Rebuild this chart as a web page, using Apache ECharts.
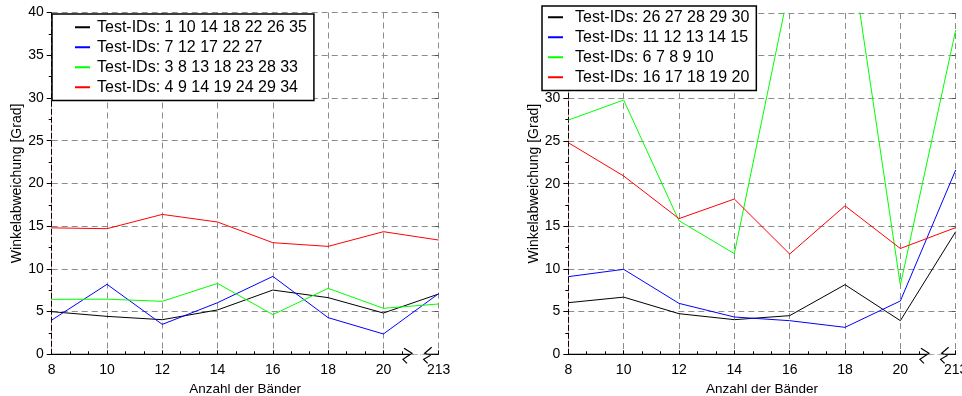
<!DOCTYPE html>
<html><head><meta charset="utf-8">
<script src="https://cdn.jsdelivr.net/npm/echarts@6/dist/echarts.min.js"></script>
<style>html,body{margin:0;padding:0;background:#fff}#c{width:962px;height:396px}</style>
</head><body><div id="c"></div>
<script>
// Band counts on the x axis (the last one sits behind an axis break)
const bandCounts = ['8', '10', '12', '14', '16', '18', '20', '213'];

// Left panel
const leftNames = ['Test-IDs: 1 10 14 18 22 26 35', 'Test-IDs: 7 12 17 22 27',
  'Test-IDs: 3 8 13 18 23 28 33', 'Test-IDs: 4 9 14 19 24 29 34'];
const leftBlack = [4.99, 4.44, 4.05, 5.19, 7.52, 6.63, 4.83, 7.06];
const leftBlue  = [4.0, 8.19, 3.5, 6.04, 9.12, 4.29, 2.38, 7.1];
const leftGreen = [6.43, 6.45, 6.2, 8.3, 4.64, 7.72, 5.38, 5.89];
const leftRed   = [14.8, 14.7, 16.37, 15.48, 13.06, 12.63, 14.35, 13.37];

// Right panel
const rightNames = ['Test-IDs: 26 27 28 29 30', 'Test-IDs: 11 12 13 14 15',
  'Test-IDs: 6 7 8 9 10', 'Test-IDs: 16 17 18 19 20'];
const rightBlack = [6.05, 6.7, 4.76, 4.06, 4.53, 8.16, 3.94, 14.37];
const rightBlue  = [9.1, 9.96, 5.97, 4.37, 3.94, 3.16, 6.25, 21.6];
const rightGreen = [27.45, 29.8, 15.65, 11.8, 43.2, 51.8, 8.1, 38.0];
const rightRed   = [24.8, 20.9, 15.9, 18.2, 11.75, 17.4, 12.4, 14.85];

const colors = ['#000000', '#0000ff', '#00ff00', '#ff0000'];
const FONT = '"Liberation Sans", Arial, sans-serif';
const gridDash = { color: '#8c8c8c', type: [6, 4], width: 1 };

const chart = echarts.init(document.getElementById('c'), null, { renderer: 'canvas' });

function xAxisFor(gridIndex) {
  return {
    gridIndex, type: 'value', min: 0, max: 7, interval: 1,
    name: 'Anzahl der Bänder', nameLocation: 'middle', nameGap: 26,
    nameTextStyle: { fontFamily: FONT, fontSize: 13.5, color: '#000' },
    axisLine: { show: false },
    axisTick: { show: true, inside: true, length: 4, lineStyle: { color: '#000' } },
    minorTick: { show: true, splitNumber: 3, length: 3, lineStyle: { color: '#000' } },
    axisLabel: { formatter: v => bandCounts[v], margin: 9, fontFamily: FONT, fontSize: 14, color: '#000',
      showMinLabel: true, showMaxLabel: true, hideOverlap: false },
    splitLine: { show: true, lineStyle: gridDash }
  };
}
function yAxesFor(gridIndex, nameGap) {
  return [{
    gridIndex, type: 'value', min: 0, max: 40, interval: 5, position: 'left',
    name: 'Winkelabweichung [Grad]', nameLocation: 'middle', nameGap,
    nameTextStyle: { fontFamily: FONT, fontSize: 14, color: '#000' },
    axisLine: { show: true, lineStyle: { color: '#eaa0a0', width: 1 } },
    axisTick: { show: true, inside: false, length: 5, lineStyle: { color: '#000' } },
    minorTick: { show: true, splitNumber: 2, length: 3, lineStyle: { color: '#000' } },
    axisLabel: { margin: 8, fontFamily: FONT, fontSize: 14, color: '#000' },
    splitLine: { show: true, lineStyle: gridDash }
  }, {
    gridIndex, type: 'value', min: 0, max: 40, interval: 5, position: 'left',
    axisLine: { show: true, lineStyle: { color: '#000', type: [5, 3], width: 1 } },
    axisTick: { show: false }, axisLabel: { show: false }, splitLine: { show: false }
  }, {
    gridIndex, type: 'value', min: 0, max: 40, interval: 5, position: 'right',
    axisLine: { show: false },
    axisTick: { show: true, inside: true, length: 4, lineStyle: { color: '#555' } },
    axisLabel: { show: false }, splitLine: { show: false }
  }];
}

function lineSeries(name, values, color, gridIndex) {
  return {
    name, type: 'line', xAxisIndex: gridIndex, yAxisIndex: gridIndex * 3,
    data: values.map((v, i) => [i, v]),
    symbol: 'none', lineStyle: { color, width: 1 }, itemStyle: { color },
    clip: true, z: 5
  };
}

const legendBase = {
  orient: 'vertical', backgroundColor: '#fff', borderColor: '#000', borderWidth: 1.5,
  icon: 'rect', itemWidth: 15, itemHeight: 2, itemGap: 3.5,
  textStyle: { fontFamily: FONT, fontSize: 16, color: '#000', lineHeight: 16.5 }
};

chart.setOption({
  animation: false,
  grid: [
    { left: 51.7, right: 523.3, top: 12.5, bottom: 41.7, containLabel: false, outerBoundsMode: 'none' },
    { left: 568.3, right: 6.3, top: 13, bottom: 41.7, containLabel: false, outerBoundsMode: 'none' }
  ],
  xAxis: [xAxisFor(0), xAxisFor(1)],
  yAxis: [...yAxesFor(0, 27), ...yAxesFor(1, 24)],
  legend: [
    Object.assign({}, legendBase, { data: leftNames, left: 52, top: 14, padding: [5, 7, 5, 23],
      textStyle: Object.assign({}, legendBase.textStyle, { padding: [0, 0, 0, 2] }) }),
    Object.assign({}, legendBase, { data: rightNames, left: 542, top: 6, padding: [3, 7, 5, 6],
      textStyle: Object.assign({}, legendBase.textStyle, { padding: [0, 0, 0, 7] }) })
  ],
  series: [
    lineSeries(leftNames[0], leftBlack, colors[0], 0),
    lineSeries(leftNames[1], leftBlue, colors[1], 0),
    lineSeries(leftNames[2], leftGreen, colors[2], 0),
    lineSeries(leftNames[3], leftRed, colors[3], 0),
    lineSeries(rightNames[0], rightBlack, colors[0], 1),
    lineSeries(rightNames[1], rightBlue, colors[1], 1),
    lineSeries(rightNames[2], rightGreen, colors[2], 1),
    lineSeries(rightNames[3], rightRed, colors[3], 1)
  ]
});

// x-axis line with a break marker between the last two ticks
function axisWithBreak(gridIndex) {
  const px = v => chart.convertToPixel({ gridIndex }, [v, 0]);
  const start = px(0), end = px(7), a = px(6.39), b = px(6.8), g0 = px(6.55), g1 = px(6.74);
  const y = start[1];
  const stroke = { stroke: '#000', lineWidth: 1.2, fill: null };
  return [
    { type: 'rect', z: 100, shape: { x: g0[0], y: y - 6, width: g1[0] - g0[0], height: 6 }, style: { fill: '#fff' } },
    { type: 'polyline', z: 101, shape: { points: [[start[0], y], [a[0] + 5, y]] }, style: stroke },
    { type: 'polyline', z: 101, shape: { points: [[a[0] - 1, y - 6], [a[0] + 7, y - 1], [a[0] - 2, y + 5], [a[0] + 2, y + 9]] }, style: stroke },
    { type: 'polyline', z: 101, shape: { points: [[b[0] + 4, y - 7], [b[0] - 3, y - 1], [b[0], y]] }, style: stroke },
    { type: 'polyline', z: 101, shape: { points: [[b[0] + 3, y + 1], [b[0] - 4, y + 5], [b[0], y + 9]] }, style: stroke },
    { type: 'polyline', z: 101, shape: { points: [[b[0], y], [end[0], y]] }, style: stroke }
  ];
}

chart.setOption({ graphic: [...axisWithBreak(0), ...axisWithBreak(1)] });
</script>
</body></html>
